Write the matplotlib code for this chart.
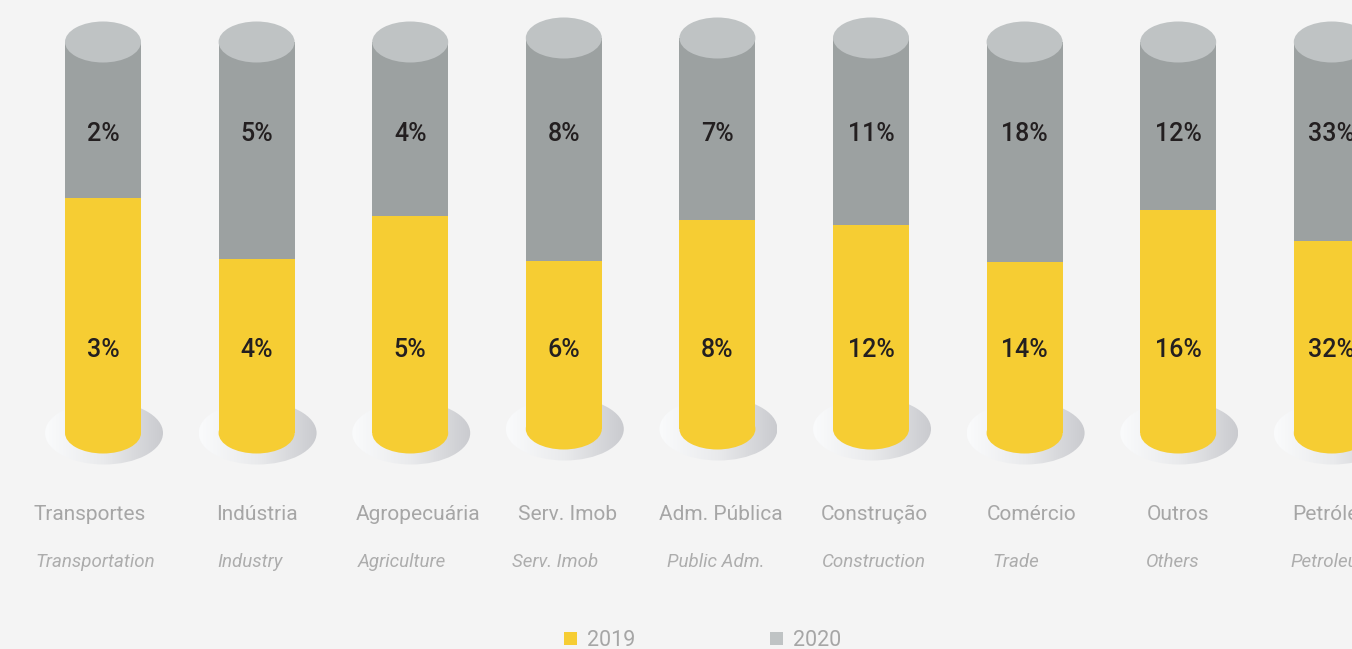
import numpy as np
import matplotlib
matplotlib.use('Agg')
import matplotlib.pyplot as plt
from matplotlib.patches import Ellipse, Rectangle
from matplotlib.colors import LinearSegmentedColormap


sectors_pt = ['Transportes', 'Indústria', 'Agropecuária', 'Serv. Imob', 'Adm. Pública',
              'Construção', 'Comércio', 'Outros', 'Petróleo']
sectors_en = ['Transportation', 'Industry', 'Agriculture', 'Serv. Imob', 'Public Adm.',
              'Construction', 'Trade', 'Others', 'Petroleum']
share_2019 = [3, 4, 5, 6, 8, 12, 14, 16, 32]
share_2020 = [2, 5, 4, 8, 7, 11, 18, 12, 33]

YELLOW = '#F6CD33'
GRAY = '#9CA1A1'
CAP = '#BFC3C4'
BG = '#F4F4F4'
DARK = '#231F20'
LABEL = '#A6A6A6'
LABEL_EN = '#ADADAD'

# pixel layout of the canvas: column pitch and cylinder height
PX_COL = 153.6
PX_X0 = 103
PX_BASE = 433
PX_H = 391

# small per-column nudges (pixels) of the artwork
lift_px = [0, 0, 0, -4, -4, -4, 0, 0, 0]
pt_dx = [-13, 0, 8, 4, 3, 3, 7, 0, 0]
en_dx = [-8, -7, -8, -9, -2, 3, -9, -5, 0]


def py(px):
    return (PX_BASE - px) / PX_H


fig = plt.figure(figsize=(13.52, 6.49), dpi=100, facecolor=BG)
ax = fig.add_axes([0, 0, 1, 1])
ax.set_facecolor(BG)
ax.set_xlim(-PX_X0 / PX_COL, (1352 - PX_X0) / PX_COL)
ax.set_ylim(py(649), py(0))
ax.axis('off')

x = np.arange(len(sectors_pt))
s19 = np.array(share_2019, dtype=float)
s20 = np.array(share_2020, dtype=float)
frac19 = s19 / (s19 + s20)
lift = -np.array(lift_px) / PX_H

bar_w = 76 / PX_COL
cap_h = 41 / PX_H
shadow_w = 118 / PX_COL
shadow_h = 63 / PX_H

shade = LinearSegmentedColormap.from_list('shade', ['#FAFBFC', '#E9EAEC', '#CACBCF'])
grad = np.linspace(0, 1, 256).reshape(1, -1)

for i in x:
    b = lift[i]
    # floor shadow with horizontal gradient
    cx = i + 1 / PX_COL
    sh = Ellipse((cx, b), shadow_w, shadow_h, facecolor='none', edgecolor='none')
    ax.add_patch(sh)
    im = ax.imshow(grad, cmap=shade, aspect='auto', zorder=1,
                   extent=(cx - shadow_w / 2, cx + shadow_w / 2, b - shadow_h / 2, b + shadow_h / 2))
    im.set_clip_path(sh)

# cylinder bodies
ax.bar(x, frac19, bottom=lift, width=bar_w, color=YELLOW, linewidth=0, zorder=3)
ax.bar(x, 1 - frac19, bottom=lift + frac19, width=bar_w, color=GRAY, linewidth=0, zorder=3)

for i in x:
    b = lift[i]
    ax.add_patch(Ellipse((i, b), bar_w, cap_h, facecolor=YELLOW, edgecolor='none', zorder=2.9))
    ax.add_patch(Ellipse((i, b + 1), bar_w, cap_h, facecolor=CAP, edgecolor='none', zorder=4))

    ax.text(i, py(134), f'{share_2020[i]}%', ha='center', va='center', fontsize=18,
            family='Roboto', weight='medium', color=DARK, zorder=5)
    ax.text(i, py(350), f'{share_2019[i]}%', ha='center', va='center', fontsize=18,
            family='Roboto', weight='medium', color=DARK, zorder=5)

    ax.text(i + pt_dx[i] / PX_COL, py(514), sectors_pt[i], ha='center', va='center',
            fontsize=15, family='Roboto', weight='normal', color=LABEL)
    ax.text(i + en_dx[i] / PX_COL, py(562), sectors_en[i], ha='center', va='center',
            fontsize=13.5, family='Roboto', weight='normal', style='italic', color=LABEL_EN)

# legend
for px_sq, col, yr in [(564, YELLOW, '2019'), (770, CAP, '2020')]:
    fig.patches.append(Rectangle((px_sq / 1352, 1 - 645 / 649), 13 / 1352, 13 / 649,
                                 transform=fig.transFigure, facecolor=col, edgecolor='none'))
    fig.text((px_sq + 23) / 1352, 1 - 641 / 649, yr, ha='left', va='center', fontsize=15.5,
             family='Roboto', weight='normal', color=LABEL)

fig.savefig('out.png', dpi=100, facecolor=BG)
